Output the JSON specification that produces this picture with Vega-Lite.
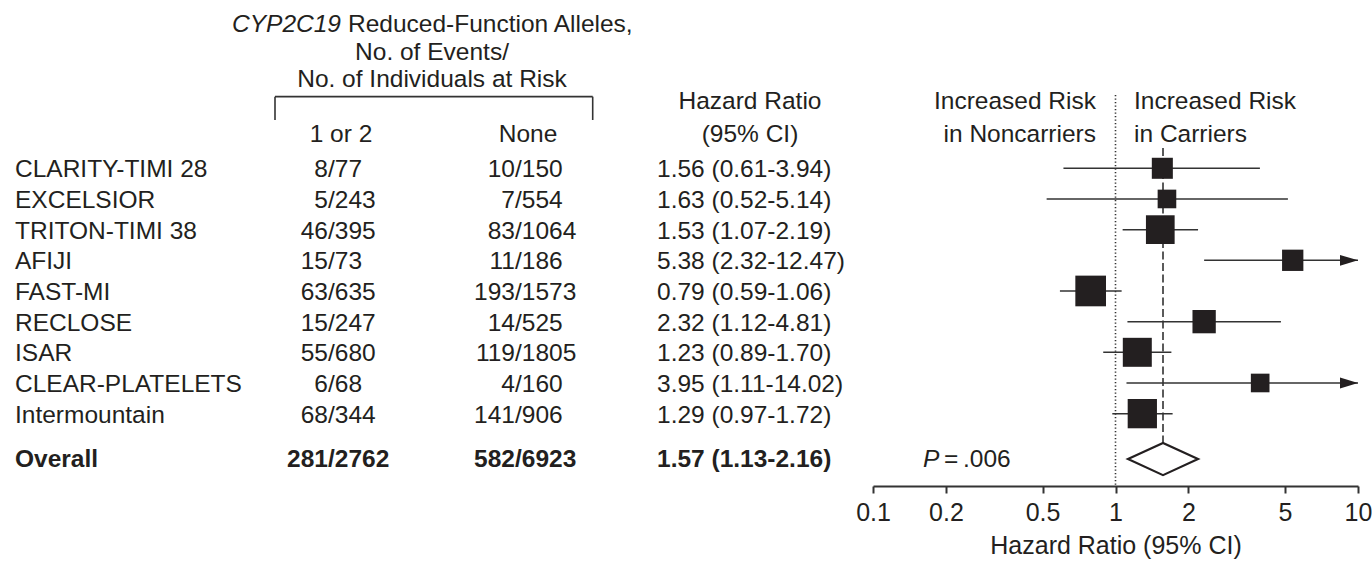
{
  "$schema": "https://vega.github.io/schema/vega-lite/v6.json",
  "width": 1372,
  "height": 486,
  "autosize": {"type": "none"},
  "padding": {"left": 0, "right": 0, "top": 0, "bottom": 77},
  "background": "white",
  "config": {
    "view": {"stroke": null},
    "text": {"font": "Liberation Sans", "fontSize": 24.5, "color": "#231f20", "baseline": "middle", "dy": 2},
    "axis": {"labelFont": "Liberation Sans", "titleFont": "Liberation Sans"}
  },
  "datasets": {
    "studies": [
      {"order": 1, "study": "CLARITY-TIMI 28", "c_ev": 8, "c_n": 77, "n_ev": 10, "n_n": 150, "hr": 1.56, "lo": 0.61, "hi": 3.94, "label": "1.56 (0.61-3.94)", "weight": 7.9},
      {"order": 2, "study": "EXCELSIOR", "c_ev": 5, "c_n": 243, "n_ev": 7, "n_n": 554, "hr": 1.63, "lo": 0.52, "hi": 5.14, "label": "1.63 (0.52-5.14)", "weight": 6.2},
      {"order": 3, "study": "TRITON-TIMI 38", "c_ev": 46, "c_n": 395, "n_ev": 83, "n_n": 1064, "hr": 1.53, "lo": 1.07, "hi": 2.19, "label": "1.53 (1.07-2.19)", "weight": 14.7},
      {"order": 4, "study": "AFIJI", "c_ev": 15, "c_n": 73, "n_ev": 11, "n_n": 186, "hr": 5.38, "lo": 2.32, "hi": 12.47, "label": "5.38 (2.32-12.47)", "weight": 8.1},
      {"order": 5, "study": "FAST-MI", "c_ev": 63, "c_n": 635, "n_ev": 193, "n_n": 1573, "hr": 0.79, "lo": 0.59, "hi": 1.06, "label": "0.79 (0.59-1.06)", "weight": 16.8},
      {"order": 6, "study": "RECLOSE", "c_ev": 15, "c_n": 247, "n_ev": 14, "n_n": 525, "hr": 2.32, "lo": 1.12, "hi": 4.81, "label": "2.32 (1.12-4.81)", "weight": 9.7},
      {"order": 7, "study": "ISAR", "c_ev": 55, "c_n": 680, "n_ev": 119, "n_n": 1805, "hr": 1.23, "lo": 0.89, "hi": 1.70, "label": "1.23 (0.89-1.70)", "weight": 15.0},
      {"order": 8, "study": "CLEAR-PLATELETS", "c_ev": 6, "c_n": 68, "n_ev": 4, "n_n": 160, "hr": 3.95, "lo": 1.11, "hi": 14.02, "label": "3.95 (1.11-14.02)", "weight": 6.2},
      {"order": 9, "study": "Intermountain", "c_ev": 68, "c_n": 344, "n_ev": 141, "n_n": 906, "hr": 1.29, "lo": 0.97, "hi": 1.72, "label": "1.29 (0.97-1.72)", "weight": 15.3}
    ],
    "overall": [
      {"study": "Overall", "c_ev": 281, "c_n": 2762, "n_ev": 582, "n_n": 6923, "hr": 1.57, "lo": 1.13, "hi": 2.16, "label": "1.57 (1.13-2.16)", "p": ".006"}
    ],
    "blank": [{}]
  },
  "resolve": {"scale": {"x": "independent"}, "axis": {"x": "independent"}},
  "layer": [
    {
      "layer": [
        {"data": {"name": "studies"}, "mark": {"type": "text", "align": "left"},
         "encoding": {"text": {"field": "study"},
           "x": {"datum": 15, "type": "quantitative", "scale": {"domain": [0, 1372], "nice": false, "zero": false}, "axis": null},
           "y": {"field": "order", "type": "quantitative", "scale": {"domain": [-4.487, 11.359], "reverse": true, "nice": false, "zero": false}, "axis": null}}},
        {"data": {"name": "studies"}, "mark": {"type": "text", "align": "right"},
         "encoding": {"text": {"field": "c_ev"}, "x": {"datum": 328, "type": "quantitative"}, "y": {"field": "order", "type": "quantitative"}}},
        {"data": {"name": "studies"}, "mark": {"type": "text", "align": "left", "text": "/"},
         "encoding": {"x": {"datum": 328, "type": "quantitative"}, "y": {"field": "order", "type": "quantitative"}}},
        {"data": {"name": "studies"}, "mark": {"type": "text", "align": "left"},
         "encoding": {"text": {"field": "c_n"}, "x": {"datum": 334.8, "type": "quantitative"}, "y": {"field": "order", "type": "quantitative"}}},
        {"data": {"name": "studies"}, "mark": {"type": "text", "align": "right"},
         "encoding": {"text": {"field": "n_ev"}, "x": {"datum": 515, "type": "quantitative"}, "y": {"field": "order", "type": "quantitative"}}},
        {"data": {"name": "studies"}, "mark": {"type": "text", "align": "left", "text": "/"},
         "encoding": {"x": {"datum": 515, "type": "quantitative"}, "y": {"field": "order", "type": "quantitative"}}},
        {"data": {"name": "studies"}, "mark": {"type": "text", "align": "left"},
         "encoding": {"text": {"field": "n_n"}, "x": {"datum": 521.8, "type": "quantitative"}, "y": {"field": "order", "type": "quantitative"}}},
        {"data": {"name": "studies"}, "mark": {"type": "text", "align": "left"},
         "encoding": {"text": {"field": "label"}, "x": {"datum": 657, "type": "quantitative"}, "y": {"field": "order", "type": "quantitative"}}},

        {"data": {"name": "overall"}, "mark": {"type": "text", "align": "left", "fontWeight": "bold"},
         "encoding": {"text": {"field": "study"}, "x": {"datum": 15, "type": "quantitative"}, "y": {"datum": 10.45, "type": "quantitative"}}},
        {"data": {"name": "overall"}, "mark": {"type": "text", "align": "right", "fontWeight": "bold"},
         "encoding": {"text": {"field": "c_ev"}, "x": {"datum": 328, "type": "quantitative"}, "y": {"datum": 10.45, "type": "quantitative"}}},
        {"data": {"name": "overall"}, "mark": {"type": "text", "align": "left", "fontWeight": "bold", "text": "/"},
         "encoding": {"x": {"datum": 328, "type": "quantitative"}, "y": {"datum": 10.45, "type": "quantitative"}}},
        {"data": {"name": "overall"}, "mark": {"type": "text", "align": "left", "fontWeight": "bold"},
         "encoding": {"text": {"field": "c_n"}, "x": {"datum": 334.8, "type": "quantitative"}, "y": {"datum": 10.45, "type": "quantitative"}}},
        {"data": {"name": "overall"}, "mark": {"type": "text", "align": "right", "fontWeight": "bold"},
         "encoding": {"text": {"field": "n_ev"}, "x": {"datum": 515, "type": "quantitative"}, "y": {"datum": 10.45, "type": "quantitative"}}},
        {"data": {"name": "overall"}, "mark": {"type": "text", "align": "left", "fontWeight": "bold", "text": "/"},
         "encoding": {"x": {"datum": 515, "type": "quantitative"}, "y": {"datum": 10.45, "type": "quantitative"}}},
        {"data": {"name": "overall"}, "mark": {"type": "text", "align": "left", "fontWeight": "bold"},
         "encoding": {"text": {"field": "n_n"}, "x": {"datum": 521.8, "type": "quantitative"}, "y": {"datum": 10.45, "type": "quantitative"}}},
        {"data": {"name": "overall"}, "mark": {"type": "text", "align": "left", "fontWeight": "bold"},
         "encoding": {"text": {"field": "label"}, "x": {"datum": 657, "type": "quantitative"}, "y": {"datum": 10.45, "type": "quantitative"}}},
        {"data": {"name": "overall"}, "mark": {"type": "text", "align": "left", "fontStyle": "italic", "text": "P"},
         "encoding": {"x": {"datum": 923, "type": "quantitative"}, "y": {"datum": 10.45, "type": "quantitative"}}},
        {"data": {"name": "overall"}, "mark": {"type": "text", "align": "left"},
         "encoding": {"text": {"field": "p", "format": ""}, "x": {"datum": 963, "type": "quantitative"}, "y": {"datum": 10.45, "type": "quantitative"}}},
        {"data": {"name": "blank"}, "mark": {"type": "text", "align": "left", "text": "="},
         "encoding": {"x": {"datum": 944, "type": "quantitative"}, "y": {"datum": 10.45, "type": "quantitative"}}},

        {"data": {"name": "blank"}, "mark": {"type": "text", "align": "right", "fontStyle": "italic", "text": "CYP2C19"},
         "encoding": {"x": {"datum": 341, "type": "quantitative"}, "y": {"datum": -3.728, "type": "quantitative"}}},
        {"data": {"name": "blank"}, "mark": {"type": "text", "align": "left", "text": "Reduced-Function Alleles,"},
         "encoding": {"x": {"datum": 348, "type": "quantitative"}, "y": {"datum": -3.728, "type": "quantitative"}}},
        {"data": {"name": "blank"}, "mark": {"type": "text", "align": "center", "text": "No. of Events/"},
         "encoding": {"x": {"datum": 432, "type": "quantitative"}, "y": {"datum": -2.831, "type": "quantitative"}}},
        {"data": {"name": "blank"}, "mark": {"type": "text", "align": "center", "text": "No. of Individuals at Risk"},
         "encoding": {"x": {"datum": 432, "type": "quantitative"}, "y": {"datum": -1.934, "type": "quantitative"}}},
        {"data": {"name": "blank"}, "mark": {"type": "rule", "color": "#333333", "strokeWidth": 1.6},
         "encoding": {"x": {"datum": 275, "type": "quantitative"}, "x2": {"datum": 592.7}, "y": {"datum": -1.335, "type": "quantitative"}}},
        {"data": {"name": "blank"}, "mark": {"type": "rule", "color": "#333333", "strokeWidth": 1.6},
         "encoding": {"x": {"datum": 275, "type": "quantitative"}, "y": {"datum": -1.335, "type": "quantitative"}, "y2": {"datum": -0.575}}},
        {"data": {"name": "blank"}, "mark": {"type": "rule", "color": "#333333", "strokeWidth": 1.6},
         "encoding": {"x": {"datum": 592.7, "type": "quantitative"}, "y": {"datum": -1.335, "type": "quantitative"}, "y2": {"datum": -0.575}}},
        {"data": {"name": "blank"}, "mark": {"type": "text", "align": "center", "text": "1 or 2"},
         "encoding": {"x": {"datum": 341, "type": "quantitative"}, "y": {"datum": -0.151, "type": "quantitative"}}},
        {"data": {"name": "blank"}, "mark": {"type": "text", "align": "center", "text": "None"},
         "encoding": {"x": {"datum": 528, "type": "quantitative"}, "y": {"datum": -0.151, "type": "quantitative"}}},
        {"data": {"name": "blank"}, "mark": {"type": "text", "align": "center", "text": "Hazard Ratio"},
         "encoding": {"x": {"datum": 750, "type": "quantitative"}, "y": {"datum": -1.227, "type": "quantitative"}}},
        {"data": {"name": "blank"}, "mark": {"type": "text", "align": "center", "text": "(95% CI)"},
         "encoding": {"x": {"datum": 750, "type": "quantitative"}, "y": {"datum": -0.151, "type": "quantitative"}}},
        {"data": {"name": "blank"}, "mark": {"type": "text", "align": "right", "text": "Increased Risk"},
         "encoding": {"x": {"datum": 1096, "type": "quantitative"}, "y": {"datum": -1.227, "type": "quantitative"}}},
        {"data": {"name": "blank"}, "mark": {"type": "text", "align": "right", "text": "in Noncarriers"},
         "encoding": {"x": {"datum": 1096, "type": "quantitative"}, "y": {"datum": -0.151, "type": "quantitative"}}},
        {"data": {"name": "blank"}, "mark": {"type": "text", "align": "left", "text": "Increased Risk"},
         "encoding": {"x": {"datum": 1134, "type": "quantitative"}, "y": {"datum": -1.227, "type": "quantitative"}}},
        {"data": {"name": "blank"}, "mark": {"type": "text", "align": "left", "text": "in Carriers"},
         "encoding": {"x": {"datum": 1134, "type": "quantitative"}, "y": {"datum": -0.151, "type": "quantitative"}}}
      ]
    },
    {
      "layer": [
        {"data": {"name": "blank"}, "mark": {"type": "rule", "color": "#333333", "strokeWidth": 1.6, "strokeDash": [1.2, 2.3]},
         "encoding": {"x": {"datum": 1, "type": "quantitative", "scale": {"type": "log", "domain": [0.1, 10], "range": [873, 1358], "clamp": true, "nice": false},
             "axis": {"orient": "bottom", "values": [0.1, 0.2, 0.5, 1, 2, 5, 10], "format": "~g", "grid": false, "domainColor": "#333333", "domainWidth": 2, "tickColor": "#333333", "tickWidth": 2, "tickSize": 7, "labelFontSize": 25, "labelColor": "#231f20", "labelPadding": 7, "labelFlush": false, "labelOverlap": false, "title": "Hazard Ratio (95% CI)", "titleFontSize": 25, "titleFontWeight": "normal", "titleColor": "#231f20", "titlePadding": 8}},
           "y": {"datum": -1.39, "type": "quantitative"}, "y2": {"datum": 11.359}}},
        {"data": {"name": "overall"}, "mark": {"type": "rule", "color": "#333333", "strokeWidth": 1.6, "strokeDash": [8, 3.5]},
         "encoding": {"x": {"field": "hr", "type": "quantitative"}, "y": {"datum": 0.338, "type": "quantitative"}, "y2": {"datum": 9.957}}},
        {"data": {"name": "studies"}, "mark": {"type": "rule", "color": "#333333", "strokeWidth": 1.5},
         "encoding": {"x": {"field": "lo", "type": "quantitative"}, "x2": {"field": "hi"}, "y": {"field": "order", "type": "quantitative"}}},
        {"data": {"name": "studies"}, "transform": [{"filter": "datum.hi > 10"}],
         "mark": {"type": "point", "shape": "M-2,-0.6L0,0L-2,0.6Z", "size": 324, "filled": true, "color": "#231f20", "opacity": 1, "strokeWidth": 0},
         "encoding": {"x": {"field": "hi", "type": "quantitative"}, "y": {"field": "order", "type": "quantitative"}}},
        {"data": {"name": "studies"}, "mark": {"type": "square", "filled": true, "color": "#231f20", "opacity": 1, "strokeWidth": 0},
         "encoding": {"x": {"field": "hr", "type": "quantitative"}, "y": {"field": "order", "type": "quantitative"},
           "size": {"field": "weight", "type": "quantitative", "scale": {"type": "linear", "domain": [0, 20], "range": [0, 1120.6], "zero": true}, "legend": null}}},
        {"data": {"name": "overall"}, "mark": {"type": "point", "shape": "M-1,0L0,-0.46L1,0L0,0.46Z", "size": 4900, "filled": true, "fill": "white", "stroke": "#231f20", "strokeWidth": 2.2, "opacity": 1, "strokeJoin": "miter"},
         "encoding": {"x": {"field": "hr", "type": "quantitative"}, "y": {"datum": 10.48, "type": "quantitative"}}}
      ]
    }
  ]
}
